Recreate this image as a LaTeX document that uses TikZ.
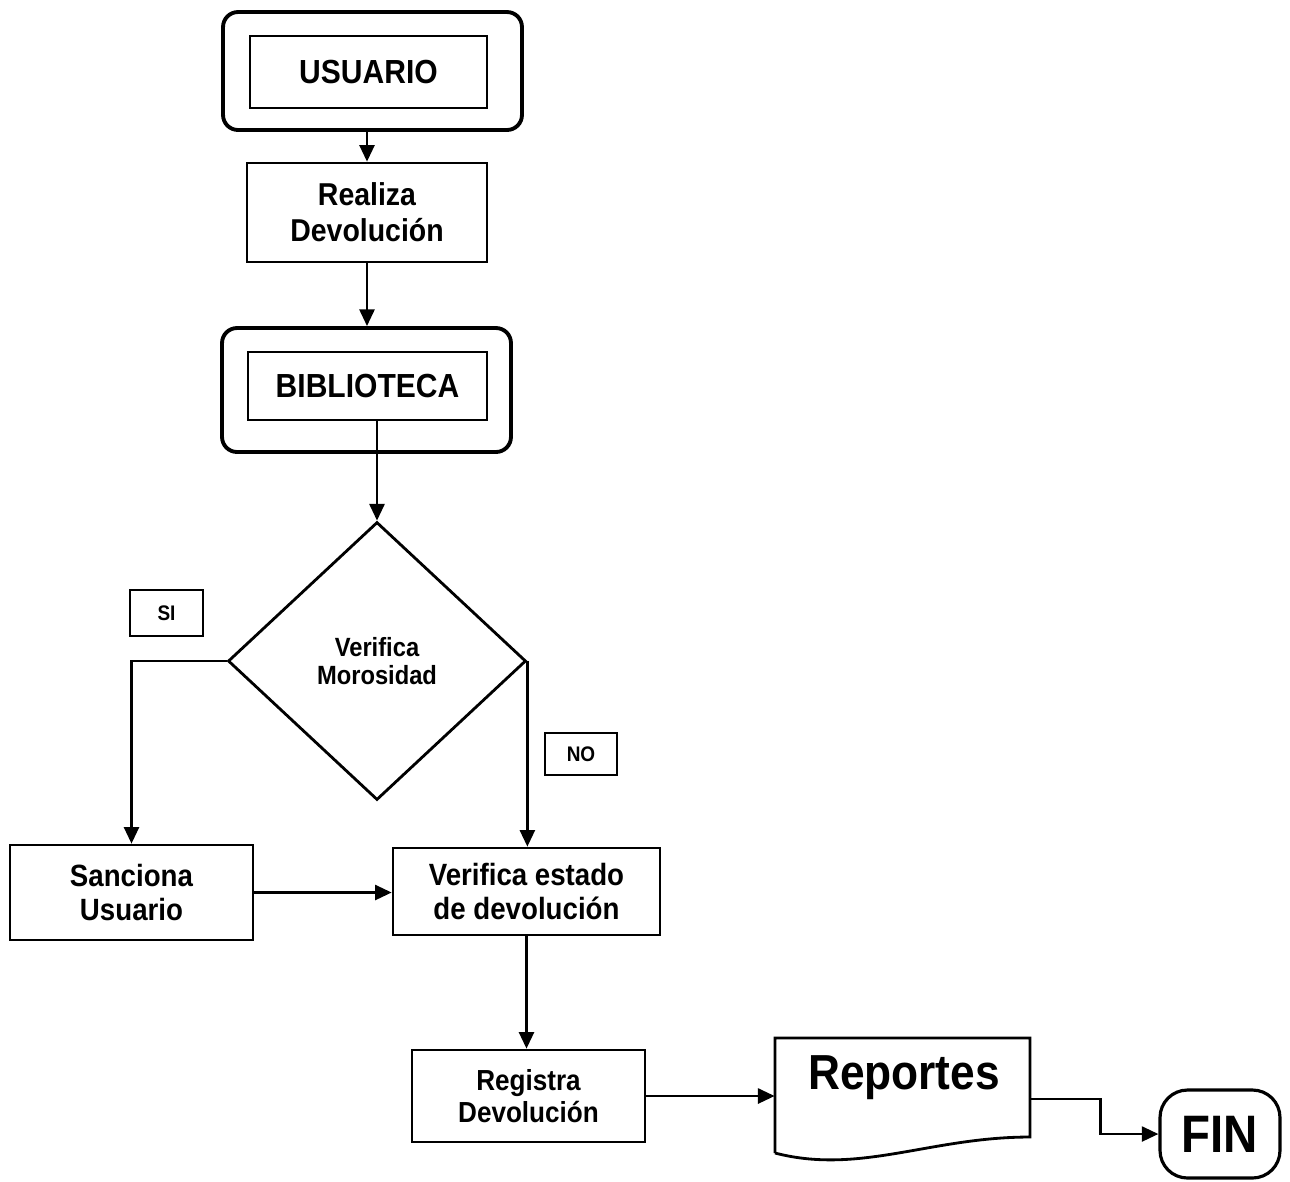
\documentclass[tikz,border=0pt]{standalone}
\usepackage{fontspec}
\setmainfont{Liberation Sans}[FakeStretch=0.9]
\usetikzlibrary{shapes.geometric,arrows.meta,calc}

\begin{document}
\begin{tikzpicture}[x=0.02cm,y=-0.02cm,
  box/.style={draw, line width=1.5pt, inner sep=0pt, align=center},
  frame/.style={draw, line width=2.2pt, rounded corners=0.3cm, inner sep=0pt},
  inbox/.style={draw, line width=1pt, inner sep=0pt, font=\bfseries\fontsize{19}{22}\selectfont},
  tag/.style={draw, line width=1.3pt, inner sep=0pt, font=\bfseries\fontsize{12}{14}\selectfont},
  flow/.style={line width=1.6pt, -{Triangle[length=9.5pt,width=8.5pt]}},
  bigtext/.style={font=\bfseries\fontsize{18}{20.5}\selectfont},
  midtext/.style={font=\bfseries\fontsize{17.5}{19}\selectfont}
]
\useasboundingbox (0,0) rectangle (1290,1181);

% USUARIO actor block
\node[frame, minimum width=5.98cm, minimum height=2.36cm] (usuOut) at (372.5,71) {};
\node[inbox, minimum width=4.74cm, minimum height=1.44cm] (usuIn) at (368.5,72) {USUARIO};

% Return step
\node[box, bigtext, minimum width=4.8cm, minimum height=1.98cm] (realiza) at (367,212.5) {Realiza\\Devolución};

% BIBLIOTECA actor block
\node[frame, minimum width=5.78cm, minimum height=2.48cm] (biblOut) at (366.5,390) {};
\node[inbox, minimum width=4.78cm, minimum height=1.36cm] (biblIn) at (367.5,386) {BIBLIOTECA};

% Decision
\node[diamond, draw, line width=1.6pt, minimum width=5.96cm, minimum height=5.56cm,
      inner sep=0pt, align=center, font=\bfseries\fontsize{15}{15.5}\selectfont]
      (verMor) at (377,661) {Verifica\\Morosidad};

% Branch tags
\node[tag, minimum width=1.46cm, minimum height=0.92cm] (si) at (166.5,613) {SI};
\node[tag, minimum width=1.44cm, minimum height=0.84cm] (no) at (581,754) {NO};

% Process boxes
\node[box, midtext, minimum width=4.86cm, minimum height=1.9cm] (sanciona) at (131.5,892.5) {Sanciona\\Usuario};
\node[box, midtext, minimum width=5.34cm, minimum height=1.74cm] (verEst) at (526.5,891.5) {Verifica estado\\de devolución};
\node[box, font=\bfseries\fontsize{16.5}{18.5}\selectfont, minimum width=4.66cm, minimum height=1.84cm] (registra) at (528.5,1096) {Registra\\Devolución};

% Document: Reportes
\node[inner sep=0pt, minimum width=5.1cm, minimum height=2.44cm] (rep) at (902.5,1099) {};
\draw[line width=1.6pt] (775,1153) -- (775,1038) -- (1030,1038) -- (1030,1137)
  .. controls (930,1137) and (860,1175) .. (775,1153);
\node[inner sep=0pt, font=\bfseries\fontsize{28}{30}\selectfont] (repLabel) at (904,1078) {Reportes};

% Terminator
\node[draw, line width=1.8pt, rounded corners=0.55cm, minimum width=2.4cm, minimum height=1.76cm,
      inner sep=0pt, font=\bfseries\fontsize{30}{32}\selectfont] (fin) at (1220,1134) {FIN};

% Connectors
\draw[flow] (realiza.north |- usuOut.south) -- (realiza.north);
\draw[flow] (realiza.south) -- (realiza.south |- biblOut.north);
\draw[flow] (biblIn.south -| verMor.north) -- (verMor.north);
\draw[flow] (verMor.west) -| (sanciona.north);
\draw[flow] (verMor.east) -- (verMor.east |- verEst.north);
\draw[flow] (sanciona.east) -- (sanciona.east -| verEst.west);
\draw[flow] (verEst.south) -- (verEst.south |- registra.north);
\draw[flow] (registra.east) -- (registra.east -| rep.west);
\draw[flow] (rep.east) -- ++(70,0) |- (fin.west);
\end{tikzpicture}
\end{document}
